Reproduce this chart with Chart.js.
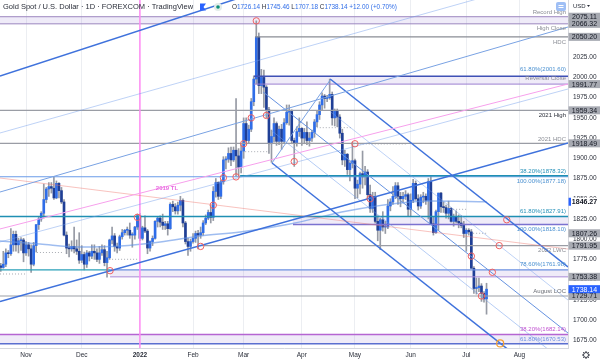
<!DOCTYPE html>
<html><head><meta charset="utf-8">
<style>html,body{margin:0;padding:0;background:#fff;overflow:hidden}#wrap{width:600px;height:360px;position:relative}</style>
<script src="https://cdn.jsdelivr.net/npm/chart.js@4.4.1/dist/chart.umd.min.js"></script>
</head><body><div id="wrap"><canvas id="c" width="600" height="360"></canvas></div>
<script>
// ---------------- DATA ----------------
// bar index 0 = 18 Oct 2021 (one bar per weekday) ... 192 = 13 Jul 2022
const monthTickIndex = [10,32,55,76,96,119,140,162,184,205];
const monthTickLabels = ['Nov','Dec','2022','Feb','Mar','Apr','May','Jun','Jul','Aug'];

const opens = [
1767,1765,1769,1783,1782,1793,1806,1793,1798,1799,
1783,1793,1788,1769,1792,1818,1825,1832,1849,1862,
1865,1863,1851,1869,1860,1846,1805,1789,1788,1791,
1788,1785,1774,1781,1769,1783,1779,1785,1783,1775,
1783,1787,1771,1777,1799,1804,1791,1789,1803,1808,
1811,1811,1805,1805,1815,1829,1801,1814,1810,1789,
1797,1801,1822,1826,1821,1817,1819,1813,1843,1840,
1835,1842,1848,1820,1797,1791,1797,1801,1807,1805,
1808,1820,1826,1833,1827,1859,1870,1853,1871,1898,
1899,1906,1898,1910,1903,1889,1909,1943,1922,1936,
1970,1998,2050,1990,2000,1988,1960,1918,1927,1943,
1921,1936,1921,1944,1957,1958,1922,1919,1933,1937,
1925,1932,1922,1925,1932,1945,1954,1966,1977,1974,
1975,1979,1950,1958,1951,1931,1898,1905,1886,1894,
1897,1863,1868,1881,1877,1883,1855,1838,1853,1822,
1811,1824,1815,1815,1841,1846,1853,1866,1853,1850,
1853,1855,1837,1848,1869,1850,1841,1852,1853,1848,
1871,1819,1808,1834,1857,1840,1839,1832,1838,1822,
1827,1822,1820,1817,1807,1811,1809,1764,1739,1740,
1742,1733,1726.14];
const highs = [
1770,1785,1788,1786,1813,1810,1810,1801,1802,1801,
1797,1796,1793,1796,1818,1828,1834,1868,1864,1870,
1870,1877,1872,1870,1864,1849,1809,1794,1798,1815,
1799,1808,1792,1784,1786,1785,1793,1793,1788,1791,
1793,1792,1785,1800,1815,1807,1795,1805,1812,1812,
1815,1820,1808,1816,1831,1832,1816,1829,1812,1798,
1804,1823,1828,1829,1831,1822,1822,1845,1847,1844,
1846,1853,1850,1822,1801,1800,1807,1810,1811,1815,
1823,1830,1836,1842,1865,1875,1871,1873,1902,1902,
1913,1914,1914,1974,1912,1917,1950,1950,1941,1974,
2002,2070,2055,2010,2009,1990,1963,1935,1950,1945,
1940,1942,1949,1966,1966,1960,1925,1939,1950,1938,
1937,1945,1932,1935,1948,1959,1970,1981,1979,1978,
1998,1982,1961,1961,1954,1936,1910,1906,1896,1920,
1899,1873,1883,1909,1890,1886,1867,1858,1858,1829,
1826,1834,1822,1849,1850,1865,1870,1870,1858,1858,
1860,1857,1856,1874,1872,1855,1855,1858,1856,1875,
1879,1828,1836,1857,1858,1846,1842,1847,1839,1831,
1835,1830,1829,1822,1813,1813,1812,1766,1752,1752,
1745,1735,1745.46];
const lows = [
1760,1764,1766,1777,1780,1785,1785,1783,1786,1772,
1780,1779,1759,1767,1784,1812,1822,1826,1845,1853,
1857,1849,1850,1851,1844,1804,1782,1778,1785,1783,
1781,1770,1771,1762,1765,1773,1776,1775,1772,1770,
1780,1767,1753,1775,1794,1785,1783,1786,1800,1805,
1805,1801,1790,1800,1812,1798,1799,1808,1782,1785,
1792,1800,1815,1815,1812,1812,1805,1812,1834,1831,
1831,1835,1815,1794,1780,1785,1795,1796,1788,1801,
1805,1818,1824,1820,1823,1852,1849,1850,1868,1887,
1895,1891,1896,1878,1878,1882,1900,1917,1919,1933,
1965,1992,1980,1980,1963,1950,1906,1895,1920,1916,
1917,1911,1918,1942,1941,1918,1890,1915,1927,1916,
1918,1917,1915,1921,1926,1939,1948,1960,1962,1970,
1973,1941,1940,1939,1925,1892,1890,1880,1872,1888,
1850,1851,1856,1863,1867,1850,1833,1833,1820,1798,
1787,1810,1807,1813,1835,1843,1850,1843,1840,1846,
1849,1829,1828,1845,1848,1836,1838,1845,1843,1825,
1818,1805,1807,1811,1833,1833,1826,1825,1821,1816,
1820,1814,1814,1802,1785,1805,1764,1733,1732,1735,
1723,1722,1707.18];
const closes = [
1765,1769,1783,1782,1793,1806,1793,1798,1799,1783,
1793,1788,1769,1792,1818,1825,1832,1849,1862,1865,
1863,1851,1869,1860,1846,1805,1789,1788,1791,1788,
1785,1774,1781,1769,1783,1779,1785,1783,1775,1783,
1787,1771,1777,1799,1804,1791,1789,1803,1808,1811,
1811,1805,1805,1815,1829,1801,1814,1810,1789,1797,
1801,1822,1826,1821,1817,1819,1813,1843,1840,1835,
1842,1848,1820,1797,1791,1797,1801,1807,1805,1808,
1820,1826,1833,1827,1859,1870,1853,1871,1898,1899,
1906,1898,1910,1903,1889,1909,1943,1922,1936,1970,
1998,2050,1990,2000,1988,1960,1918,1927,1943,1921,
1936,1921,1944,1957,1958,1922,1919,1933,1937,1925,
1932,1922,1925,1932,1945,1954,1966,1977,1974,1975,
1979,1950,1958,1951,1931,1898,1905,1886,1894,1897,
1863,1868,1881,1877,1883,1855,1838,1853,1822,1811,
1824,1815,1815,1841,1846,1853,1866,1853,1850,1853,
1855,1837,1848,1869,1850,1841,1852,1853,1848,1871,
1819,1808,1834,1857,1840,1839,1832,1838,1822,1827,
1822,1820,1817,1807,1811,1809,1764,1739,1740,1742,
1733,1726.14,1738.14];

// 200-day average, read at sample bars
const maIndex = [-0.3,15.5,30.2,47.2,63,78.8,94.6,114.3,136.9,157.8,169.7,192];
const maValue = [1797.7,1794,1790.3,1791.5,1796.5,1803.9,1808.8,1818.7,1834.8,1844.7,1847.2,1846.27];

// horizontal levels: price, first bar, last bar
const levelPrice = [2075.11,2066.32,2050.20,2001.60,1991.77,1959.34,1918.49,1878.32,1877.18,1827.91,1818.10,1791.95,1761.98,1761.98,1753.38,1729.71,1682.14,1670.53];
const levelFrom  = [-0.3,-0.3,100.5,100.1,100.1,-0.3,-0.3,94.6,-0.3,-0.3,115.5,78.8,-0.3,43.2,43.2,-0.3,-0.3,-0.3];
const levelTo    = [224.2,224.2,224.2,224.2,224.2,224.2,224.2,224.2,224.2,224.2,224.2,224.2,43.2,224.2,224.2,224.2,224.2,224.2];

// shaded zones
const zoneTop    = [2075.11,2001.60,1827.91,1761.98,1682.14];
const zoneBottom = [2066.32,1991.77,1818.10,1753.38,1670.53];
const zoneFrom   = [-0.3,100.1,115.5,43.2,-0.3];

// trend lines: [bar1, price1, bar2, price2]
const trendLines = [
 [-0.3,2001.8,224.2,2230.9],
 [-0.3,1931.3,224.2,2128.7],
 [-0.3,1858.3,224.2,2062.4],
 [-0.3,1722.9,224.2,1918.9],
 [-0.3,1812.6,224.2,1991.9],
 [-0.3,1796.5,224.2,1985.7],
 [-0.3,1875.6,224.2,1787.8],
 [130.2,1998.1,224.2,1765.6],
 [103.7,1982.0,224.2,1683.9],
 [107.2,1894.2,224.2,1605.0],
 [107.2,1933.8,224.2,1644.3],
 [130.2,1957.9,224.2,1724.7],
 [107.2,1894.2,130.2,1996.9],
 [55,1665.37,55,2095.8]
];

// dotted short level markers: [bar1, bar2, price]
const dotted = [[-0.3,9.6,1756.9],[14.3,24.6,1783.5],[44,53.9,1775.1],[96.6,105.3,1908.2],[124.9,138.7,1937.9],[140.7,160.5,1917.7],[177.6,184.3,1836.9],[186.7,192.2,1807.26]];

// circled points
const markIndex = [101,105,99,96,93,88,84,79,54,43.2,116,140,146,200,197,194.3,186,190];
const markPrice = [2070,1953,1950,1918,1877,1876,1842,1791,1827,1761,1896,1918,1850,1824,1792,1759,1779,1729.7];
const goldMarkIndex = [197.4];
const goldMarkPrice = [1671];

// right-hand notes
const noteTexts  = ['Record High','High Close','HDC','61.80%(2001.60)','Reversal Close','2021 High','2021 HDC','38.20%(1878.32)','100.00%(1877.18)','61.80%(1827.91)','100.00%(1818.10)','2022 LWC','78.60%(1761.98)','August LOC','38.20%(1682.14)','61.80%(1670.53)'];
const notePrices = [2075.11,2066.32,2050.20,2001.60,2001.60,1959.34,1918.49,1878.32,1877.18,1827.91,1818.10,1791.95,1761.98,1729.71,1682.14,1670.53];

// axis price tags
const tagValues = [2075.11,2066.32,2050.20,1991.77,1959.34,1918.49,1807.26,1791.95,1753.38,1729.71];
const maTagValue = 1846.27;
const lastTagValue = 1738.14;

const titleText = 'Gold Spot / U.S. Dollar · 1D · FOREXCOM · TradingView';
const ohlcParts = [['O','1726.14'],['H','1745.46'],['L','1707.18'],['C','1738.14'],['','+12.00 (+0.70%)']];

// ---------------- STYLE ----------------
const FF = '"Liberation Sans", Arial, sans-serif';
const levelColor = ['#9b86bf','#9b86bf','#8a8d95','#3f51b5','#9b7fd0','#9a9da5','#9a9da5','#1f8fb3','#6a9be8','#1f8fb3','#7b72d0','#9a9da5','#28a0b8','#6a8fe0','#a98ad6','#9a9da5','#b565d2','#5b6fd0'];
const levelWidth = [1,1,1.2,1.5,1,1.2,1.2,1.5,1,1.5,1.5,1.2,1.2,1.2,1,1.2,1.5,1.5];
const trendColor = ['#3f72dc','rgba(110,155,235,0.45)','#79a2e3','#3f72dc','#f7a0ec','rgba(110,155,235,0.45)','rgba(240,120,110,0.45)','#3f72dc','#6592e0','#3f72dc','rgba(110,155,235,0.5)','rgba(110,155,235,0.45)','#79a2e3','#ff8cf4'];
const trendWidth = [1.5,1,1,1.6,1,1,1,1.5,1,1.5,1,1,1,1.5];
const noteColors = ['#8a8d95','#8a8d95','#8a8d95','#4a90d0','#8a8d95','#2a2e39','#8a8d95','#2490b8','#4a90d0','#2490b8','#4a90d0','#8a8d95','#4a90d0','#6a6d75','#c050d0','#6a8fe0'];
const noteOffsets = [-4.5,5,5,-7,2.5,5.4,-4,-4.7,4.8,-5.6,4.5,4.3,-5.3,-4.3,-5,-4.8];

// ---------------- BUILD ----------------
const n = Math.min(opens.length, highs.length, lows.length, closes.length);
const wickData = [], bodyData = [], bodyColors = [];
for (let i = 0; i < n; i++) {
  wickData.push({x: i, y: [lows[i], highs[i]]});
  bodyData.push({x: i, y: [opens[i], closes[i]]});
  bodyColors.push(closes[i] >= opens[i] ? '#2f6de8' : '#1f3f96');
}
const datasets = [];
function lineDs(pts, color, width, extra) {
  return Object.assign({type:'line', data: pts, borderColor: color, borderWidth: width, pointRadius: 0, fill: false, tension: 0, order: 1}, extra || {});
}
datasets.push({type:'line', showLine:false, data: markIndex.map((x,k)=>({x, y: markPrice[k]})), pointRadius: 3.2, pointBorderWidth: 1, pointBorderColor: '#f06060', pointBackgroundColor: 'rgba(255,255,255,0)', order: 0});
datasets.push({type:'line', showLine:false, data: goldMarkIndex.map((x,k)=>({x, y: goldMarkPrice[k]})), pointRadius: 3.5, pointBorderWidth: 1.2, pointBorderColor: '#f5a030', pointBackgroundColor: 'rgba(255,255,255,0)', order: 0});
trendLines.forEach((t,k)=> datasets.push(lineDs([{x:t[0],y:t[1]},{x:t[2],y:t[3]}], trendColor[k], trendWidth[k])));
levelPrice.forEach((p,k)=> datasets.push(lineDs([{x:levelFrom[k],y:p},{x:levelTo[k],y:p}], levelColor[k], levelWidth[k])));
dotted.forEach(d=> datasets.push(lineDs([{x:d[0],y:d[2]},{x:d[1],y:d[2]}], '#a9acb3', 1, {borderDash:[1,2]})));
datasets.push(lineDs(maIndex.map((x,k)=>({x, y: maValue[k]})), 'rgba(95,145,230,0.6)', 1.5, {cubicInterpolationMode:'monotone'}));
datasets.push({type:'bar', data: bodyData, backgroundColor: bodyColors, barThickness: 2, grouped: false, minBarLength: 1, order: 2});
datasets.push({type:'bar', data: wickData, backgroundColor: '#969aa4', barThickness: 1, grouped: false, order: 3});
zoneTop.forEach((p,k)=>{
  datasets.push(lineDs([{x:zoneFrom[k],y:p},{x:224.2,y:p}], 'rgba(0,0,0,0)', 0, {fill:'+1', backgroundColor:'rgba(150,120,205,0.15)', order: 4}));
  datasets.push(lineDs([{x:zoneFrom[k],y:zoneBottom[k]},{x:224.2,y:zoneBottom[k]}], 'rgba(0,0,0,0)', 0, {order: 4}));
});

const overlay = {
  id: 'overlay',
  afterDraw(chart) {
    const {ctx, chartArea: a, scales: {y}} = chart;
    ctx.save();
    ctx.textAlign = 'right'; ctx.textBaseline = 'middle';
    ctx.font = '6px ' + FF;
    noteTexts.forEach((t,k)=>{ ctx.fillStyle = noteColors[k]; ctx.fillText(t, a.right - 2, y.getPixelForValue(notePrices[k]) + noteOffsets[k]); });
    ctx.textAlign = 'center'; ctx.fillStyle = '#e86ae0'; ctx.font = 'bold 6px ' + FF;
    ctx.fillText('2019 TL', chart.scales.x.getPixelForValue(65.7), y.getPixelForValue(1863));
    const drawTag = (v, bg, fg, bold) => {
      const yy = y.getPixelForValue(v);
      ctx.fillStyle = bg; ctx.fillRect(a.right + 0.5, yy - 4, 32, 8);
      ctx.fillStyle = fg; ctx.font = (bold ? 'bold ' : '') + '7px ' + FF; ctx.textAlign = 'center';
      ctx.fillText(v.toFixed(2), a.right + 16.5, yy + 0.5);
    };
    tagValues.forEach(v => drawTag(v, '#a7aab2', '#131722'));
    drawTag(maTagValue, '#ffffff', '#131722', true);
    ctx.fillStyle = '#2962ff'; ctx.fillRect(a.right + 0.5, y.getPixelForValue(maTagValue) - 4, 2.5, 8);
    drawTag(lastTagValue, '#2962ff', '#ffffff');
    // header
    ctx.textAlign = 'left';
    ctx.font = '7px ' + FF;
    const w = ctx.measureText(titleText).width;
    const fs = 7 * 190 / w;
    ctx.font = fs.toFixed(2) + 'px ' + FF;
    ctx.fillStyle = '#2a2e39';
    ctx.fillText(titleText, 3, 7);
    ctx.fillStyle = '#2962ff';
    ctx.beginPath(); ctx.moveTo(200,3.5); ctx.lineTo(206,3.5); ctx.lineTo(203.5,7); ctx.lineTo(206,10.5); ctx.lineTo(200,10.5); ctx.closePath(); ctx.fill();
    ctx.fillStyle = '#e3ece9'; ctx.beginPath(); ctx.arc(218,7,4,0,Math.PI*2); ctx.fill();
    ctx.fillStyle = '#0c8f78'; ctx.beginPath(); ctx.arc(218,7,1.8,0,Math.PI*2); ctx.fill();
    ctx.font = '7px ' + FF;
    let total = 0;
    ohlcParts.forEach((p,k)=>{ total += ctx.measureText(p[0] + p[1]).width + (k ? ctx.measureText(' ').width : 0); });
    const fs2 = 7 * 165 / total;
    ctx.font = fs2.toFixed(2) + 'px ' + FF;
    let xx = 232;
    ohlcParts.forEach((p,k)=>{
      if (k) xx += ctx.measureText(' ').width;
      ctx.fillStyle = '#2a2e39'; ctx.fillText(p[0], xx, 7); xx += ctx.measureText(p[0]).width;
      ctx.fillStyle = '#2f6de8'; ctx.fillText(p[1], xx, 7); xx += ctx.measureText(p[1]).width;
    });
    ctx.fillStyle = '#9fbff5';
    ctx.beginPath(); ctx.roundRect ? ctx.roundRect(556,2,10,9,2) : ctx.rect(556,2,10,9); ctx.fill();
    ctx.strokeStyle = '#ffffff'; ctx.lineWidth = 1;
    ctx.beginPath(); ctx.moveTo(558.5,5.5); ctx.lineTo(563.5,5.5); ctx.moveTo(558.5,7.5); ctx.lineTo(563.5,7.5); ctx.stroke();
    ctx.fillStyle = '#2a2e39'; ctx.font = '6px ' + FF; ctx.textAlign = 'left';
    ctx.fillText('USD', 573, 6);
    ctx.beginPath(); ctx.moveTo(587,5); ctx.lineTo(590,5); ctx.lineTo(588.5,7); ctx.closePath(); ctx.fill();
    ctx.strokeStyle = '#3a3e49'; ctx.lineWidth = 1;
    ctx.beginPath(); ctx.arc(586,355,2.5,0,Math.PI*2); ctx.stroke();
    for (let t = 0; t < 8; t++) { const ang = t*Math.PI/4; ctx.beginPath(); ctx.moveTo(586+Math.cos(ang)*2.5,355+Math.sin(ang)*2.5); ctx.lineTo(586+Math.cos(ang)*4,355+Math.sin(ang)*4); ctx.stroke(); }
    ctx.restore();
  }
};

const zeroPad = (s) => { s.paddingLeft = 0; s.paddingRight = 0; s.paddingTop = 0; s.paddingBottom = 0; };

new Chart(document.getElementById('c'), {
  type: 'bar',
  data: { datasets },
  options: {
    responsive: false, animation: false, devicePixelRatio: 1,
    layout: { padding: 0, autoPadding: false },
    plugins: { legend: {display:false}, tooltip: {enabled:false} },
    scales: {
      x: {
        type: 'linear', min: -0.3, max: 224.2, offset: false,
        grid: { color: '#eceef2', drawTicks: false, offset: false },
        border: { display: true, color: '#d6d8de' },
        ticks: {
          autoSkip: false, maxRotation: 0, padding: 3, color: '#2a2e39',
          font: (c) => ({ size: 6.5, family: FF, weight: (c.tick && c.tick.value === 55) ? 'bold' : 'normal' }),
          callback: (v) => { const k = monthTickIndex.indexOf(v); return k >= 0 ? monthTickLabels[k] : ''; }
        },
        afterBuildTicks: (s) => { s.ticks = monthTickIndex.map(v => ({value: v})); },
        afterFit: (s) => { s.height = 12; zeroPad(s); }
      },
      y: {
        type: 'linear', position: 'right', min: 1665.37, max: 2095.8,
        grid: { display: false, drawTicks: false },
        border: { display: true, color: '#d6d8de' },
        ticks: { stepSize: 25, includeBounds: false, padding: 5, color: '#2a2e39', font: { size: 6.5, family: FF }, callback: (v) => Number(v).toFixed(2) },
        afterFit: (s) => { s.width = 32; zeroPad(s); }
      }
    }
  },
  plugins: [overlay]
});
</script></body></html>
